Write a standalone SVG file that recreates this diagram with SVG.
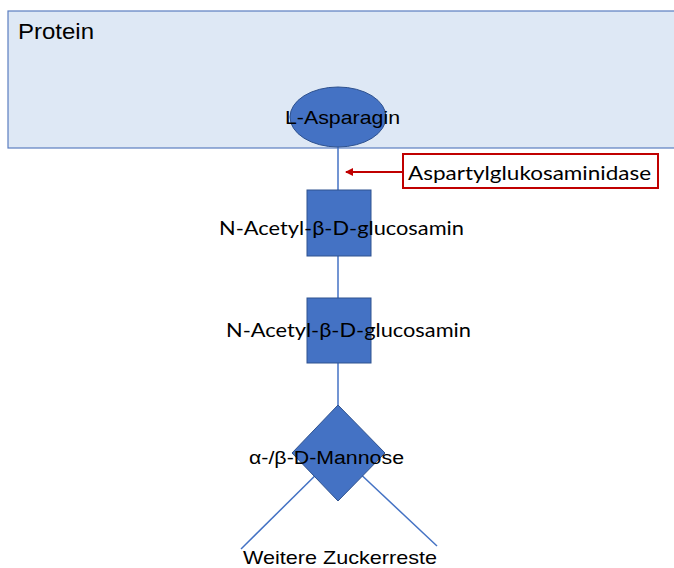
<svg xmlns="http://www.w3.org/2000/svg" width="674" height="568" viewBox="0 0 674 568">
<defs>
<style>
.shape{fill:#4472c4;stroke:#2f528f;stroke-width:1}
.conn{stroke:#4472c4;stroke-width:1.5;fill:none}
.arial{font-family:"Liberation Sans",Arial,sans-serif;fill:#000}
.cal{font-family:Lato,"Open Sans",sans-serif;fill:#000}
</style>
<marker id="ah" markerWidth="8" markerHeight="8" refX="7" refY="4" orient="auto" markerUnits="userSpaceOnUse">
<path d="M0,0 L8,4 L0,8 z" fill="#c00000"/>
</marker>
</defs>
<g id="protein">
<rect x="8" y="11" width="680" height="137" fill="#dee8f5" stroke="#5b7ec0" stroke-width="1.2"/>
<text class="arial" x="18" y="39" font-size="22" textLength="76" lengthAdjust="spacingAndGlyphs">Protein</text>
</g>
<g id="connectors">
<line class="conn" x1="338" y1="147" x2="338" y2="190"/>
<line class="conn" x1="338" y1="256" x2="338" y2="298"/>
<line class="conn" x1="338" y1="363" x2="338" y2="405"/>
<line class="conn" x1="338" y1="453" x2="241" y2="549"/>
<line class="conn" x1="338" y1="453" x2="437" y2="546"/>
<line x1="402" y1="172" x2="346" y2="172" stroke="#c00000" stroke-width="2" marker-end="url(#ah)"/>
</g>
<g id="asparagin">
<ellipse class="shape" cx="338" cy="117" rx="48" ry="30"/>
<text class="arial" x="285" y="124" font-size="19" textLength="115" lengthAdjust="spacingAndGlyphs">L-Asparagin</text>
</g>
<g id="enzyme">
<rect x="403" y="154" width="255" height="34" fill="#fff" stroke="#c00000" stroke-width="2"/>
<text class="cal" x="408" y="180" font-size="19" textLength="243" lengthAdjust="spacingAndGlyphs">Aspartylglukosaminidase</text>
</g>
<g id="glcnac1">
<rect class="shape" x="307" y="190" width="64" height="66"/>
<text class="cal" x="219" y="235" font-size="19" textLength="245" lengthAdjust="spacingAndGlyphs">N-Acetyl-β-D-glucosamin</text>
</g>
<g id="glcnac2">
<rect class="shape" x="307" y="298" width="64" height="65"/>
<text class="cal" x="226" y="337" font-size="19" textLength="245" lengthAdjust="spacingAndGlyphs">N-Acetyl-β-D-glucosamin</text>
</g>
<g id="mannose">
<path class="shape" d="M338,405 L385,453 L338,501 L292,453 z"/>
<text class="arial" x="249" y="464" font-size="18" textLength="155" lengthAdjust="spacingAndGlyphs">α-/β-D-Mannose</text>
</g>
<g id="rest">
<text class="arial" x="243" y="564" font-size="19" textLength="194" lengthAdjust="spacingAndGlyphs">Weitere Zuckerreste</text>
</g>
</svg>
